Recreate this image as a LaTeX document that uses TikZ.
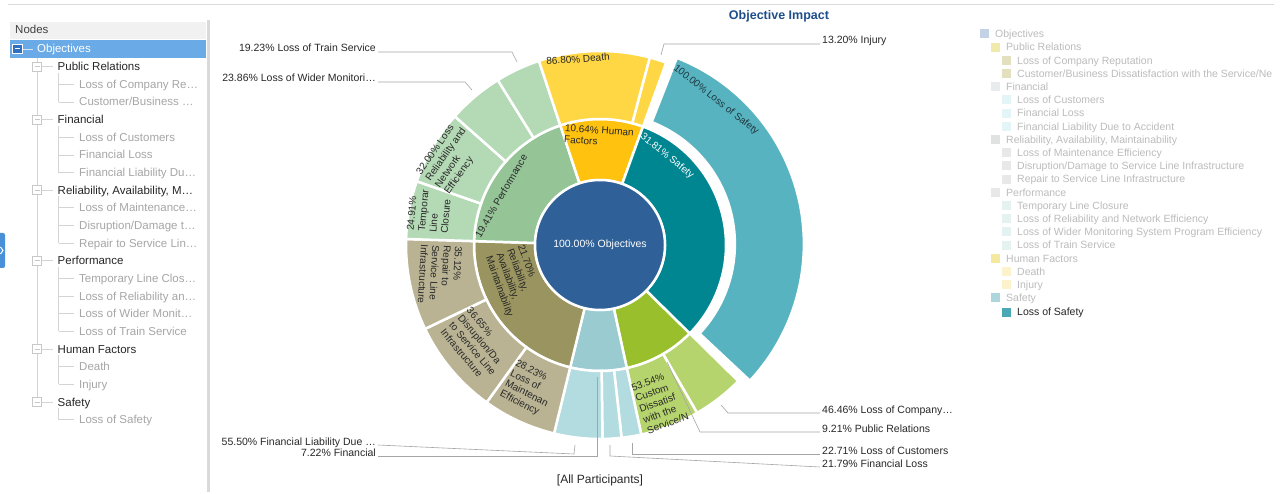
\documentclass[tikz,border=0pt]{standalone}
\usepackage{fontspec}
\setmainfont{Liberation Sans}
\usetikzlibrary{positioning}

\definecolor{objblue}{RGB}{47,96,151}
\definecolor{safin}{RGB}{0,134,145}
\definecolor{safout}{RGB}{88,179,193}
\definecolor{hfin}{RGB}{255,194,15}
\definecolor{hfout}{RGB}{255,215,68}
\definecolor{perfin}{RGB}{149,197,151}
\definecolor{perfout}{RGB}{180,217,181}
\definecolor{relin}{RGB}{154,148,96}
\definecolor{relout}{RGB}{185,179,147}
\definecolor{finin}{RGB}{153,203,209}
\definecolor{finout}{RGB}{179,220,224}
\definecolor{prin}{RGB}{153,192,44}
\definecolor{prout}{RGB}{182,212,110}
\definecolor{lbldark}{RGB}{40,40,40}
\definecolor{safdark}{RGB}{30,55,62}
\definecolor{leadgray}{RGB}{165,165,165}
\definecolor{titleblue}{RGB}{31,78,140}
\definecolor{tgray}{RGB}{166,166,166}
\definecolor{tline}{RGB}{212,212,212}
\definecolor{boxgray}{RGB}{200,200,200}
\definecolor{boxblue}{RGB}{48,112,190}
\definecolor{selblue}{RGB}{106,170,230}
\definecolor{headgray}{RGB}{241,241,241}
\definecolor{panelgray}{RGB}{218,218,218}
\definecolor{tabblue}{RGB}{74,144,217}
\definecolor{legtext}{RGB}{188,188,188}
\definecolor{legobj}{RGB}{196,210,230}
\definecolor{legpr}{RGB}{240,234,172}
\definecolor{legprc}{RGB}{226,224,190}
\definecolor{legfin}{RGB}{232,236,236}
\definecolor{legfinc}{RGB}{228,245,247}
\definecolor{legrel}{RGB}{224,226,226}
\definecolor{legrelc}{RGB}{232,232,232}
\definecolor{legperf}{RGB}{232,232,232}
\definecolor{legperfc}{RGB}{229,242,242}
\definecolor{leghf}{RGB}{245,233,160}
\definecolor{leghfc}{RGB}{252,242,204}
\definecolor{legsaf}{RGB}{172,214,219}
\definecolor{legsafc}{RGB}{75,169,181}

\tikzset{
  seglbl/.style={font=\fontsize{10}{11.4}\selectfont, align=left, inner sep=0pt, text=lbldark},
  outlbl/.style={font=\fontsize{10.5}{12}\selectfont, inner sep=2pt, text=lbldark},
  leader/.style={draw=leadgray, line width=0.6pt},
  treecat/.style={font=\fontsize{11.5}{13}\selectfont, anchor=base west, inner sep=0pt, text=black!85},
  treeitem/.style={treecat, text=tgray},
  treeline/.style={draw=tline, line width=0.7pt},
  legitem/.style={font=\fontsize{10.5}{12}\selectfont, anchor=base west, inner sep=0pt, text=legtext},
}

% annular sector: colour, inner r, outer r, start angle, end angle
\newcommand{\seg}[5]{\filldraw[fill=#1,draw=white,line width=2.5pt] (#4:#2) arc[start angle=#4,end angle=#5,radius=#2] -- (#5:#3) arc[start angle=#5,end angle=#4,radius=#3] -- cycle;}

\begin{document}
\begin{tikzpicture}[x=1pt,y=-1pt]
\useasboundingbox (0,0) rectangle (1282,494);
\fill[white] (0,0) rectangle (1282,494);
\draw[gray!30, line width=0.8pt] (8,4) -- (1274,4);

% node tree panel
\fill[headgray] (10,22) rectangle (206,39);
\node[treecat, text=black!75] (hdr) at (15,34) {Nodes};
\draw[panelgray, line width=3pt] (208,20) -- (208,492);
\fill[tabblue, rounded corners=2pt] (-5,233) rectangle (5,268);
\draw[white, line width=1pt] (0.5,247) -- (3,250.5) -- (0.5,254);
\fill[selblue] (10,40) rectangle (206,58);
\draw[white!70!selblue, line width=0.7pt] (22,49) -- (33,49);
\filldraw[fill=boxblue, draw=white, line width=0.6pt] (12,44.5) rectangle (22,53.5);
\draw[white, line width=1pt] (14.5,49) -- (19.5,49);
\node[treecat, text=white] (t0) at (37,53) {Objectives};
\draw[treeline] (37,58) -- (37,402);
\foreach \a/\b in {1/3,4/7,8/11,12/16,17/19,20/21}
  \draw[treeline] (58.5,{49+17.65*\a+6}) -- (58.5,{49+17.65*\b});
\foreach \i/\t in {1/Public Relations,4/Financial,8/{Reliability, Availability, M…},12/Performance,17/Human Factors,20/Safety}{
  \pgfmathsetmacro\ty{49+17.65*\i}
  \draw[treeline] (42,\ty) -- (53,\ty);
  \filldraw[fill=white, draw=boxgray, line width=0.6pt] (32.5,\ty-4.5) rectangle (41.5,\ty+4.5);
  \draw[boxgray, line width=0.8pt] (34.5,\ty) -- (39.5,\ty);
  \node[treecat] (t\i) at (57.5,\ty+4) {\t};
}
\foreach \i/\t in {2/Loss of Company Re…,3/{Customer/Business …},5/Loss of Customers,6/Financial Loss,7/Financial Liability Du…,9/Loss of Maintenance…,10/{Disruption/Damage t…},11/Repair to Service Lin…,13/Temporary Line Clos…,14/Loss of Reliability an…,15/Loss of Wider Monit…,16/Loss of Train Service,18/Death,19/Injury,21/Loss of Safety}{
  \pgfmathsetmacro\ty{49+17.65*\i}
  \draw[treeline] (58.5,\ty) -- (74,\ty);
  \node[treeitem] (t\i) at (79,\ty+4) {\t};
}

% title and footer
\node[font=\bfseries\fontsize{12.5}{14}\selectfont, text=titleblue] (title) at (779,16) {Objective Impact};
\node[font=\fontsize{12}{14}\selectfont, text=lbldark] (part) at (600,480) {[All Participants]};

% sunburst
\begin{scope}[shift={(600,245)},yscale=-1]
  \seg{prin}{65}{126}{-44.55}{-77.71}
  \seg{finin}{65}{126}{-77.71}{-103.7}
  \seg{relin}{65}{126}{-103.7}{-181.77}
  \seg{perfin}{65}{126}{178.23}{108.35}
  \seg{hfin}{65}{126}{108.35}{70.05}
  \seg{safin}{65}{126}{70.05}{-44.55}
  \seg{prout}{126}{194}{-44.55}{-59.96}
  \seg{prout}{126}{194}{-59.96}{-77.71}
  \seg{finout}{126}{194}{-77.71}{-83.61}
  \seg{finout}{126}{194}{-83.61}{-89.27}
  \seg{finout}{126}{194}{-89.27}{-103.7}
  \seg{relout}{126}{194}{-103.7}{-125.75}
  \seg{relout}{126}{194}{-125.75}{-154.38}
  \seg{relout}{126}{194}{-154.38}{-181.77}
  \seg{perfout}{126}{194}{178.23}{160.82}
  \seg{perfout}{126}{194}{160.82}{138.46}
  \seg{perfout}{126}{194}{138.46}{121.79}
  \seg{perfout}{126}{194}{121.79}{108.35}
  \seg{hfout}{126}{194}{108.35}{75.11}
  \seg{hfout}{126}{194}{75.11}{70.05}
  \begin{scope}[shift={(13.75:4)}]
    \seg{safout}{131}{200}{68.6}{-43.1}
  \end{scope}
  \filldraw[fill=objblue, draw=white, line width=2.5pt] (0,0) circle[radius=65];
\end{scope}

% labels inside the rings
\node[seglbl, text=white, font=\fontsize{10.5}{12}\selectfont] (c-obj) at (600,245) {100.00\% Objectives};
\node[seglbl, text=white, rotate=-39] (c-saf) at (667,156) {31.81\% Safety};
\node[seglbl, text=safdark, rotate=-38.5] (c-los) at (716,100) {100.00\% Loss of Safety};
\node[seglbl, rotate=4] (c-death) at (578,59) {86.80\% Death};
\node[seglbl, rotate=-4] (c-hf) at (599,136) {10.64\% Human\\Factors};
\node[seglbl, rotate=60] (c-perf) at (501,196) {19.41\% Performance};
\node[seglbl, rotate=85] (c-temp) at (429,211) {24.91\%\\Temporar\\Line\\Closure};
\node[seglbl, rotate=55] (c-lorel) at (451,158) {32.00\% Loss\\Reliability and\\Network\\Efficiency};
\node[seglbl, rotate=-93] (c-rep) at (440,275) {35.12\%\\Repair to\\Service Line\\Infrastructure};
\node[seglbl, rotate=-70] (c-rel) at (515,281) {21.70\%\\Reliability,\\Availability,\\Maintainability};
\node[seglbl, rotate=-50] (c-dis) at (477,345) {36.65\%\\Disruption/Da\\to Service Line\\Infrastructure};
\node[seglbl, rotate=-27] (c-mnt) at (529,389) {28.23\%\\Loss of\\Maintenan\\Efficiency};
\node[seglbl, rotate=20] (c-cust) at (660,402) {53.54\%\\Custom\\Dissatisf\\with the\\Service/N};

% outside labels and their leaders
\node[outlbl, anchor=base east] (l-train) at (378,52) {19.23\% Loss of Train Service};
\node[outlbl, anchor=base east] (l-wider) at (378,82) {23.86\% Loss of Wider Monitori…};
\node[outlbl, anchor=base west] (l-inj) at (820,44) {13.20\% Injury};
\node[outlbl, anchor=base west] (l-locr) at (820,413) {46.46\% Loss of Company…};
\node[outlbl, anchor=base west] (l-pr) at (820,432) {9.21\% Public Relations};
\node[outlbl, anchor=base west] (l-loc) at (820,454) {22.71\% Loss of Customers};
\node[outlbl, anchor=base west] (l-fl) at (820,467) {21.79\% Financial Loss};
\node[outlbl, anchor=base east] (l-liab) at (378,445) {55.50\% Financial Liability Due …};
\node[outlbl, anchor=base east] (l-fin) at (378,456) {7.22\% Financial};

\coordinate (b-train) at (512,52);  \coordinate (p-train) at (517,62);
\coordinate (b-wider) at (465,82);  \coordinate (p-wider) at (472,90);
\coordinate (b-inj) at (664,44);    \coordinate (p-inj) at (661,55);
\coordinate (b-locr) at (728,413);  \coordinate (p-locr) at (721,405);
\coordinate (b-pr) at (700,432);    \coordinate (p-pr) at (667,362);
\coordinate (b-loc) at (632,454);   \coordinate (p-loc) at (632,443);
\coordinate (b-fl) at (610,456);    \coordinate (p-fl) at (610,445);
\coordinate (b-liab) at (574,454);  \coordinate (p-liab) at (575,445);
\coordinate (b-fin) at (597,456);   \coordinate (p-fin) at (597,377);

\draw[leader] (l-train.base east) -- (b-train) -- (p-train);
\draw[leader] (l-wider.base east) -- (b-wider) -- (p-wider);
\draw[leader] (l-inj.base west) -- (b-inj) -- (p-inj);
\draw[leader] (l-locr.base west) -- (b-locr) -- (p-locr);
\draw[leader] (l-pr.base west) -- (b-pr) -- (p-pr);
\draw[leader] (l-loc.base west) -- (b-loc) -- (p-loc);
\draw[leader] (l-fl.base west) -- (b-fl) -- (p-fl);
\draw[leader] (l-liab.base east) -- (b-liab) -- (p-liab);
\draw[leader] (l-fin.base east) -- (b-fin) -- (p-fin);

% legend
\foreach \j/\l/\c/\t in {0/0/legobj/Objectives,1/1/legpr/Public Relations,2/2/legprc/Loss of Company Reputation,3/2/legprc/{Customer/Business Dissatisfaction with the Service/Ne},4/1/legfin/Financial,5/2/legfinc/Loss of Customers,6/2/legfinc/Financial Loss,7/2/legfinc/Financial Liability Due to Accident,8/1/legrel/{Reliability, Availability, Maintainability},9/2/legrelc/Loss of Maintenance Efficiency,10/2/legrelc/{Disruption/Damage to Service Line Infrastructure},11/2/legrelc/Repair to Service Line Infrastructure,12/1/legperf/Performance,13/2/legperfc/Temporary Line Closure,14/2/legperfc/Loss of Reliability and Network Efficiency,15/2/legperfc/Loss of Wider Monitoring System Program Efficiency,16/2/legperfc/Loss of Train Service,17/1/leghf/Human Factors,18/2/leghfc/Death,19/2/leghfc/Injury,20/1/legsaf/Safety}{
  \pgfmathsetmacro\ly{34+13.2*\j}
  \pgfmathsetmacro\lx{980+11*\l}
  \fill[\c] (\lx,\ly-4.5) rectangle (\lx+9,\ly+4.5);
  \node[legitem] (g\j) at (\lx+15,\ly+3.75) {\t};
}
\fill[legsafc] (1002,307.7) rectangle (1011,316.7);
\node[legitem, text=black!85] (g21) at (1017,315.9) {Loss of Safety};
\end{tikzpicture}
\end{document}
